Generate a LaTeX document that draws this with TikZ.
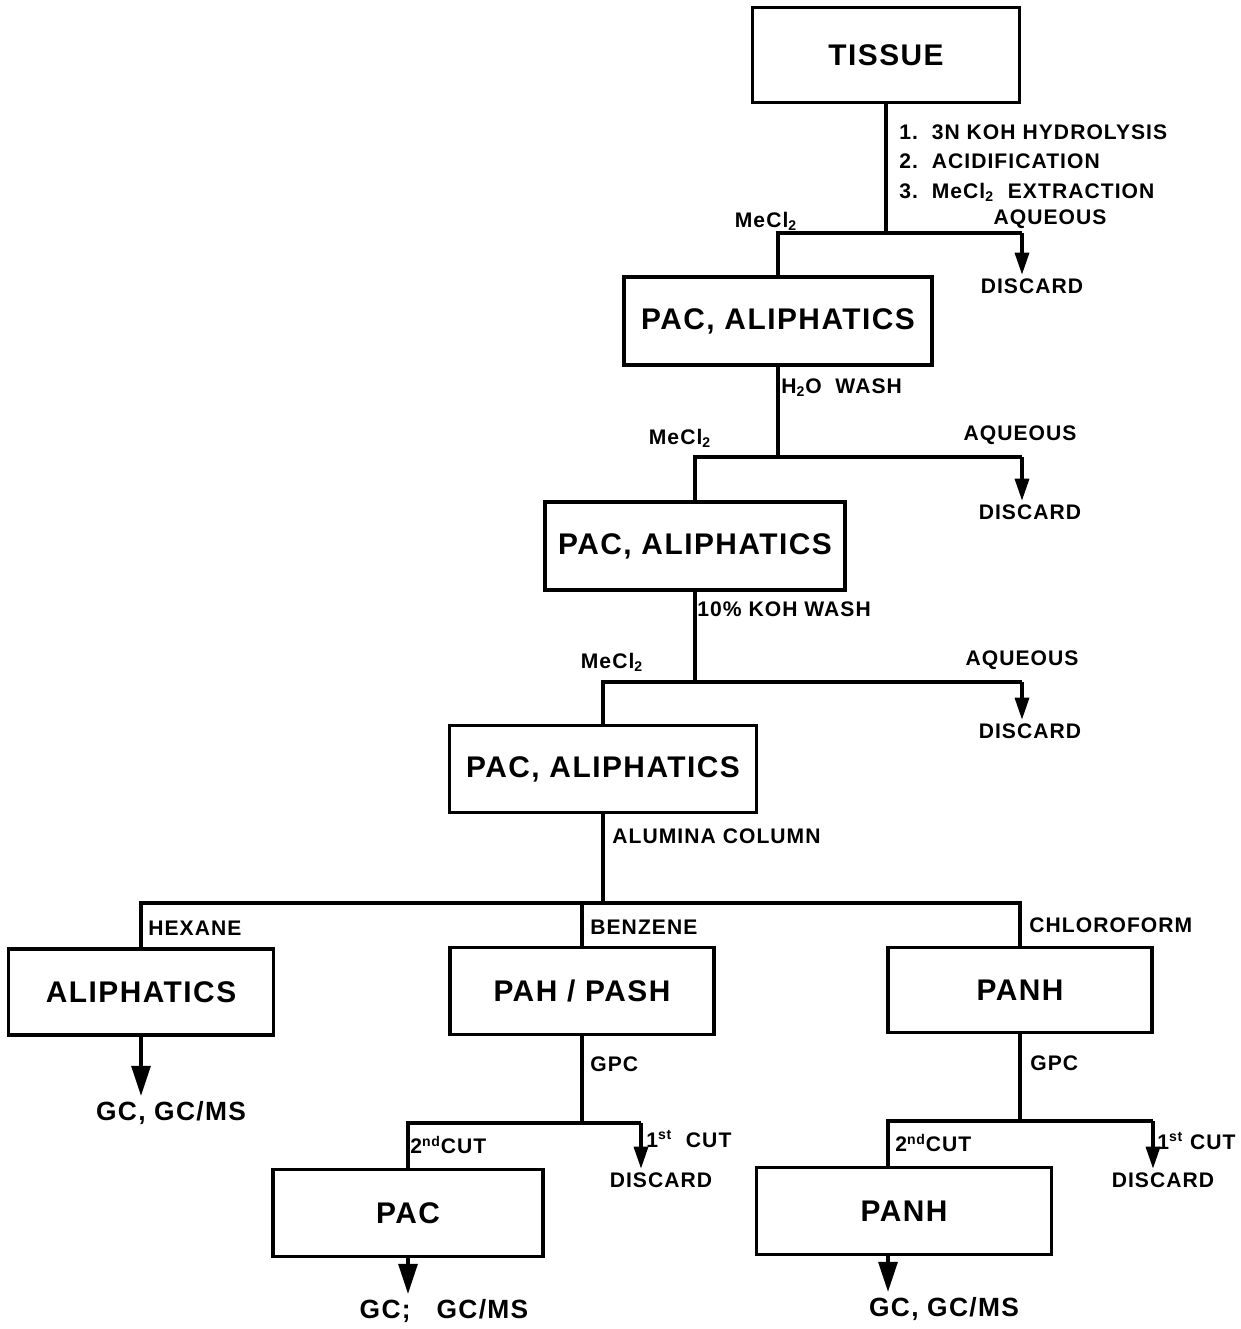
\documentclass[tikz,border=0pt]{standalone}
\usepackage{fontspec}
\setmainfont{Liberation Sans}[LetterSpace=5]
\usetikzlibrary{arrows.meta}
\begin{document}
\begin{tikzpicture}[x=0.02cm,y=-0.02cm,
  box/.style={draw,line width=2pt,inner sep=0pt,font=\fontsize{17}{20}\selectfont\bfseries},
  lbl/.style={inner sep=0pt,font=\fontsize{12}{14}\selectfont\bfseries},
  res/.style={inner sep=0pt,font=\fontsize{15}{18}\selectfont\bfseries},
  wire/.style={line width=1.9pt},
  toarr/.style={wire,-{Triangle[length=0.44cm,width=0.28cm]},shorten >=2pt},
  bigarr/.style={wire,-{Triangle[length=0.6cm,width=0.38cm]},shorten >=3pt}]
\useasboundingbox (0,0) rectangle (1241,1329);

\node[box,minimum width=5.34cm,minimum height=1.9cm] (tissue) at (886,55) {TISSUE};
\node[box,minimum width=6.16cm,minimum height=1.76cm] (pac1) at (778,321) {PAC, ALIPHATICS};
\node[box,minimum width=6.0cm,minimum height=1.76cm] (pac2) at (695,546) {PAC, ALIPHATICS};
\node[box,minimum width=6.14cm,minimum height=1.74cm] (pac3) at (603,769) {PAC, ALIPHATICS};
\node[box,minimum width=5.3cm,minimum height=1.72cm] (ali) at (141,992) {ALIPHATICS};
\node[box,minimum width=5.28cm,minimum height=1.74cm] (pah) at (582,991) {PAH / PASH};
\node[box,minimum width=5.28cm,minimum height=1.7cm] (panhA) at (1020,990) {PANH};
\node[box,minimum width=5.4cm,minimum height=1.74cm] (pacB) at (408,1213) {PAC};
\node[box,minimum width=5.9cm,minimum height=1.74cm] (panhB) at (904,1211) {PANH};

\coordinate (aq1) at (1022,233);
\coordinate (aq2) at (1022,457);
\coordinate (aq3) at (1022,682);
\coordinate (split) at (605,903);
\coordinate (cut1) at (641,1123);
\coordinate (cut2) at (1153,1121);
\coordinate (panhin) at (888,1211);

\node[lbl,anchor=west,align=left,font=\fontsize{12}{16.8}\selectfont\bfseries] (steps) at (899,163)
  {1.\ \ 3N KOH HYDROLYSIS\\2.\ \ ACIDIFICATION\\3.\ \ MeCl\textsubscript{2}\ \ EXTRACTION};
\node[lbl] (mecl1) at (766,221) {MeCl\textsubscript{2}};
\node[lbl] (aqu1) at (1050,219) {AQUEOUS};
\node[lbl] (dis1) at (1032,286) {DISCARD};

\node[lbl,anchor=west] (wash1) at (781,388) {H\textsubscript{2}O\ \ WASH};
\node[lbl] (mecl2) at (680,438) {MeCl\textsubscript{2}};
\node[lbl] (aqu2) at (1020,435) {AQUEOUS};
\node[lbl] (dis2) at (1030,512) {DISCARD};

\node[lbl,anchor=west] (wash2) at (697,609) {10\% KOH WASH};
\node[lbl] (mecl3) at (612,662) {MeCl\textsubscript{2}};
\node[lbl] (aqu3) at (1022,660) {AQUEOUS};
\node[lbl] (dis3) at (1030,731) {DISCARD};

\node[lbl,anchor=west] (column) at (612,836) {ALUMINA COLUMN};
\node[lbl,anchor=west] (hexane) at (148,928) {HEXANE};
\node[lbl,anchor=west] (benzene) at (590,927) {BENZENE};
\node[lbl,anchor=west] (chloro) at (1029,925) {CHLOROFORM};

\node[res] (gc1) at (171,1113) {GC, GC/MS};

\node[lbl,anchor=west] (gpc1) at (590,1064) {GPC};
\node[lbl,anchor=west] (second1) at (410,1145) {2\textsuperscript{nd}CUT};
\node[lbl,anchor=west] (first1) at (646,1139) {1\textsuperscript{st}\ \ CUT};
\node[lbl] (dis4) at (661,1180) {DISCARD};

\node[lbl,anchor=west] (gpc2) at (1030,1063) {GPC};
\node[lbl,anchor=west] (second2) at (895,1143) {2\textsuperscript{nd}CUT};
\node[lbl,anchor=west] (first2) at (1157,1141) {1\textsuperscript{st} CUT};
\node[lbl] (dis5) at (1163,1180) {DISCARD};

\node[res] (gc2) at (444,1311) {GC;\ \ \ GC/MS};
\node[res] (gc3) at (944,1309) {GC, GC/MS};

\draw[wire] (tissue.south) -- (tissue.south |- aq1);
\draw[wire] (pac1.north) |- (aq1);
\draw[toarr] (aq1) -- (aq1 |- dis1.north);

\draw[wire] (pac1.south) -- (pac1.south |- aq2);
\draw[wire] (pac2.north) |- (aq2);
\draw[toarr] (aq2) -- (aq2 |- dis2.north);

\draw[wire] (pac2.south) -- (pac2.south |- aq3);
\draw[wire] (pac3.north) |- (aq3);
\draw[toarr] (aq3) -- (aq3 |- dis3.north);

\draw[wire] (pac3.south) -- (pac3.south |- split);
\draw[wire] (ali.north) |- (panhA.north |- split) -- (panhA.north);
\draw[wire] (pah.north) -- (pah.north |- split);
\draw[bigarr] (ali.south) -- (ali.south |- gc1.north);

\draw[wire] (pah.south) -- (pah.south |- cut1);
\draw[wire] (pacB.north) |- (cut1);
\draw[toarr] (cut1) -- (cut1 |- dis4.north);
\draw[bigarr] (pacB.south) -- (pacB.south |- gc2.north);

\draw[wire] (panhA.south) -- (panhA.south |- cut2);
\draw[wire] (panhin |- panhB.north) |- (cut2);
\draw[toarr] (cut2) -- (cut2 |- dis5.north);
\draw[bigarr] (panhin |- panhB.south) -- (panhin |- gc3.north);
\end{tikzpicture}
\end{document}
